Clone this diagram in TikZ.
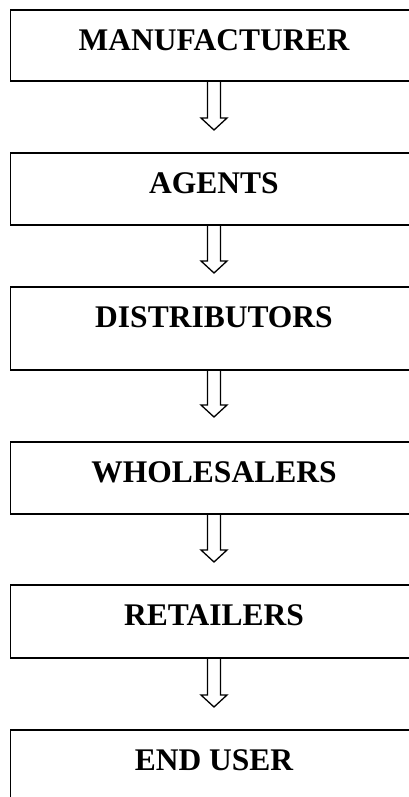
\documentclass[tikz,border=0pt]{standalone}
\usepackage{fontspec}
\setmainfont{Liberation Serif}
\usepackage{tikz}
\usetikzlibrary{calc}

\tikzset{
	stage/.style={draw, rectangle, line width=1.8pt, inner sep=0pt, outer sep=0pt,
		minimum width=407pt, anchor=north, text height=40.4pt, text depth=#1,
		font=\bfseries\fontsize{31.5}{36}\selectfont},
	flow/.style={line width=1.3pt, miter limit=10, to path={
		($(\tikztostart)+(-6.5,0)$) -- ($(\tikztotarget)+(-6.5,12)$)
		-- ($(\tikztotarget)+(-13,12)$) -- (\tikztotarget)
		-- ($(\tikztotarget)+(13,12)$) -- ($(\tikztotarget)+(6.5,12)$)
		-- ($(\tikztostart)+(6.5,0)$)}}
}

\begin{document}
\begin{tikzpicture}[x=1pt,y=1pt]
			\useasboundingbox (0,0) rectangle (409,-797);
			\clip (0,0) rectangle (409,-797);
			
			\node [stage=30.6pt] (maker) at (214,-10) {MANUFACTURER};
			\node [stage=31.6pt] (agents) at (214,-153) {AGENTS};
			\node [stage=42.6pt] (distrib) at (214,-287) {DISTRIBUTORS};
			\node [stage=31.6pt] (whole) at (214,-442) {WHOLESALERS};
			\node [stage=32.6pt] (retail) at (214,-585) {RETAILERS};
			\node [stage=31.6pt] (user) at (214,-730) {END USER};
			
			\draw [flow] (maker.south) to ([yshift=23]agents.north);
			\draw [flow] (agents.south) to ([yshift=14]distrib.north);
			\draw [flow] (distrib.south) to ([yshift=25]whole.north);
			\draw [flow] (whole.south) to ([yshift=23]retail.north);
			\draw [flow] (retail.south) to ([yshift=23]user.north);
\end{tikzpicture}
\end{document}
